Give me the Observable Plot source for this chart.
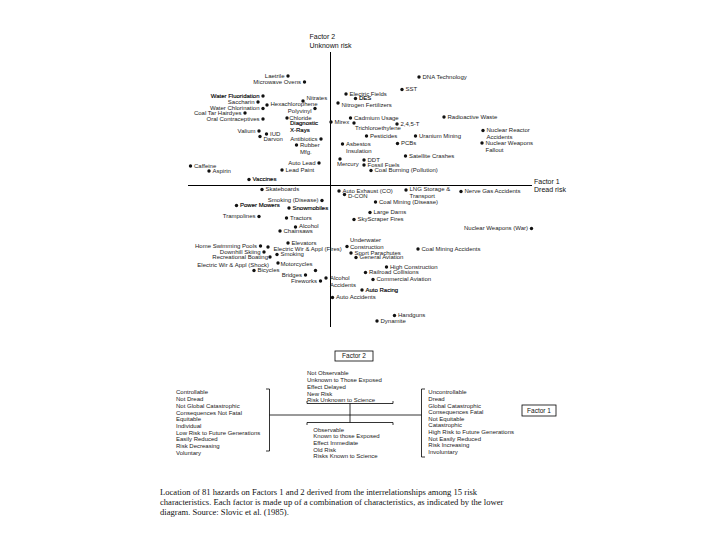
<!DOCTYPE html>
<html><head><meta charset="utf-8">
<script src="https://cdn.jsdelivr.net/npm/d3@7"></script>
<script src="https://cdn.jsdelivr.net/npm/@observablehq/plot@0.6"></script>
<style>
body{margin:0;background:#fff}
#page{position:relative;width:720px;height:540px;overflow:hidden;background:#fff}
#page svg{position:absolute;left:0;top:0}
#caption{position:absolute;left:160px;top:487px;font-family:"Liberation Serif","Times New Roman",serif;font-size:8.6px;line-height:10px;color:#111;white-space:nowrap}
</style></head>
<body><div id="page"><div id="caption"></div></div>
<script>
// ---- data: 81 hazards, factor scores ----
const hazards = ["Laetrile","Microwave Ovens","Water Fluoridation","Saccharin","Water Chlorination","Coal Tar Hairdyes","Oral Contraceptives","Hexachlorophene","Nitrates","Polyvinyl Chloride",
"Diagnostic X-Rays","Valium","IUD","Darvon","Antibiotics","Rubber Mfg.","Auto Lead","Lead Paint","Caffeine","Aspirin",
"Vaccines","Skateboards","Smoking (Disease)","Power Mowers","Snowmobiles","Trampolines","Tractors","Alcohol","Chainsaws","Elevators",
"Home Swimming Pools","Electric Wir & Appl (Fires)","Downhill Skiing","Smoking","Recreational Boating","Electric Wir & Appl (Shock)","Motorcycles","Bicycles","Bridges","Fireworks",
"Alcohol Accidents","Auto Accidents","Auto Racing","Commercial Aviation","Railroad Collisions","High Construction","General Aviation","Sport Parachutes","Underwater Construction","Coal Mining Accidents",
"Nuclear Weapons (War)","SkyScraper Fires","Large Dams","Coal Mining (Disease)","Auto Exhaust (CO)","D-CON","LNG Storage & Transport","Nerve Gas Accidents","Handguns","Dynamite",
"Mercury","DDT","Fossil Fuels","Coal Burning (Pollution)","Satellite Crashes","Asbestos Insulation","PCBs","Pesticides","Uranium Mining","Nuclear Reactor Accidents",
"Nuclear Weapons Fallout","Radioactive Waste","Trichloroethylene","2,4,5-T","Mirex","Cadmium Usage","Nitrogen Fertilizers","DES","Electric Fields","SST","DNA Technology"];
const factor1 = [-0.85,-0.52,-1.35,-1.45,-1.35,-1.71,-1.35,-1.27,-0.55,-0.31,
-0.87,-1.43,-1.28,-1.41,-0.19,-0.68,-0.23,-0.97,-2.80,-2.43,
-1.63,-1.37,-0.17,-1.88,-0.83,-1.43,-0.88,-0.70,-1.01,-0.85,
-1.40,-1.25,-1.33,-1.07,-1.21,-1.05,-0.30,-1.53,-0.50,-0.20,
-0.09,0.04,0.63,0.85,0.70,1.12,0.51,0.41,0.33,1.75,
4.02,0.47,0.79,0.90,0.17,0.28,1.51,2.61,1.28,0.93,
0.19,0.67,0.67,0.81,1.50,0.24,1.34,0.72,1.70,3.05,
3.03,2.27,0.47,1.33,0.01,0.40,0.15,0.50,0.31,1.43,1.77];
const factor2 = [2.19,2.07,1.79,1.67,1.54,1.45,1.33,1.61,1.69,1.54,
1.35,1.09,1.03,0.98,0.93,0.81,0.45,0.31,0.39,0.29,
0.12,-0.08,-0.30,-0.40,-0.45,-0.62,-0.65,-0.83,-0.91,-1.15,
-1.21,-1.23,-1.33,-1.38,-1.43,-1.55,-1.70,-1.70,-1.79,-1.91,
-1.85,-2.24,-2.09,-1.88,-1.74,-1.63,-1.44,-1.35,-1.22,-1.27,
-0.86,-0.68,-0.54,-0.33,-0.11,-0.18,-0.09,-0.12,-2.60,-2.71,
0.53,0.51,0.41,0.30,0.59,0.83,0.84,0.99,0.99,1.10,
0.85,1.37,1.25,1.23,1.27,1.35,1.65,1.74,1.83,1.92,2.17];

// axis titles
const axisTitles = [["Factor 2","Unknown risk"],["Factor 1","Dread risk"]];

// lower diagram texts
const factor2High = ["Not Observable","Unknown to Those Exposed","Effect Delayed","New Risk","Risk Unknown to Science"];
const factor2Low = ["Observable","Known to those Exposed","Effect Immediate","Old Risk","Risks Known to Science"];
const factor1Low = ["Controllable","Not Dread","Not Global Catastrophic","Consequences Not Fatal","Equitable","Individual","Low Risk to Future Generations","Easily Reduced","Risk Decreasing","Voluntary"];
const factor1High = ["Uncontrollable","Dread","Global Catastrophic","Consequences Fatal","Not Equitable","Catastrophic","High Risk to Future Generations","Not Easily Reduced","Risk Increasing","Involuntary"];
const boxLabels = ["Factor 2","Factor 1"];
const captionLines = ["Location of 81 hazards on Factors 1 and 2 derived from the interrelationships among 15 risk",
"characteristics. Each factor is made up of a combination of characteristics, as indicated by the lower",
"diagram. Source: Slovic et al. (1985)."];

// ---- label placement (layout only): side, dx, dy (px), display text, bold ----
const L = (a, dx, dy, t, b) => ({a, dx, dy: dy || 0, t, b});
const labelLayout = [
L("l"),L("l"),L("l",null,0,null,1),L("l"),L("l"),L("l"),L("l"),L("r",null,-0.5),L("r",null,-3),L("l",null,2.5,"Polyvinyl\nChloride"),
L("r",3,4.9,"Diagnostic\nX-Rays",1),L("l"),L("r"),L("r",null,3),L("l"),L("r",null,0,"Rubber\nMfg."),L("l"),L("r"),L("r"),L("r"),
L("r",null,0,null,1),L("r"),L("l"),L("r",null,0,null,1),L("r",null,0,null,1),L("l"),L("r"),L("r",null,-1.4),L("r"),L("r"),
L("l"),L("r",5.5,1.6),L("l"),L("r"),L("l",-2),L("l",-9,1.7),L("l",-3,-6.7),L("r"),L("l"),L("l"),
L("r",4,0,"Alcohol\nAccidents"),L("r"),L("r",null,0,null,1),L("r"),L("r"),L("r"),L("r"),L("r"),L("r",3,-6.7,"Underwater\nConstruction"),L("r"),
L("l"),L("r"),L("r"),L("r"),L("r"),L("r",null,2),L("r",null,-1,"LNG Storage &\nTransport"),L("r"),L("r"),L("r"),
L("r",-3,5),L("r"),L("r"),L("r"),L("r"),L("r",null,0,"Asbestos\nInsulation"),L("r"),L("r"),L("r"),L("r",null,0,"Nuclear Reactor\nAccidents"),
L("r",null,0,"Nuclear Weapons\nFallout"),L("r"),L("r",1,5),L("r"),L("r"),L("r"),L("r",null,2.5),L("r",null,0,null,1),L("r"),L("r"),L("r")];

const xDomain = [-6.6, 7.8], yDomain = [-3.2, 3.7];
const W = 720, H = 345;
const PX = (xDomain[1] - xDomain[0]) / W; // data units per pixel (same for y)

const points = hazards.map((name, i) => ({name, f1: factor1[i], f2: factor2[i]}));
const labelRows = [];
points.forEach((p, i) => {
  const s = labelLayout[i];
  const anchor = s.a === "l" ? "end" : "start";
  const dx = s.dx == null ? (s.a === "l" ? -3.5 : 3.5) : s.dx;
  const lines = (s.t || p.name).split("\n");
  lines.forEach((line, j) => labelRows.push({text: line, anchor, bold: !!s.b,
    x: p.f1 + dx * PX, y: p.f2 - (s.dy + j * 6.9) * PX}));
});

const vTop = 2.66, vBot = -2.84, hLeft = -2.84, hRight = 4.04;
const titleRows = [
  {t: axisTitles[0][0], x: 0, y: vTop, dx: -21, dy: -16},
  {t: axisTitles[0][1], x: 0, y: vTop, dx: -21, dy: -7},
  {t: axisTitles[1][0], x: hRight, y: 0, dx: 1.5, dy: -4},
  {t: axisTitles[1][1], x: hRight, y: 0, dx: 1.5, dy: 4.3}];

const labelMark = (anchor, bold) => Plot.text(labelRows.filter(d => d.anchor === anchor && d.bold === bold), {
  x: "x", y: "y", text: "text", textAnchor: anchor, fontSize: 6, fill: bold ? "#000" : "#222",
  ...(bold ? {stroke: "#000", strokeWidth: 0.15} : {})});

const chart = Plot.plot({
  width: W, height: H, margin: 0,
  x: {domain: xDomain, axis: null},
  y: {domain: yDomain, axis: null},
  style: {fontFamily: '"Liberation Sans", Arial, sans-serif', background: "transparent", overflow: "visible"},
  marks: [
    Plot.ruleX([0], {y1: vTop, y2: vBot, stroke: "#000", strokeWidth: 1}),
    Plot.ruleY([0], {x1: hLeft, x2: hRight, stroke: "#000", strokeWidth: 1}),
    Plot.dot(points, {x: "f1", y: "f2", r: 1.7, fill: "#111", stroke: "none"}),
    labelMark("start", false), labelMark("end", false), labelMark("start", true), labelMark("end", true),
    Plot.text(titleRows, {x: d => d.x + d.dx * PX, y: d => d.y - d.dy * PX, text: "t", textAnchor: "start", fontSize: 7, fill: "#111"})
  ]
});
const page = document.getElementById("page");
page.appendChild(chart);

// ---- lower schematic diagram ----
const svg = d3.select(page).append("svg").attr("width", 720).attr("height", 540)
  .style("font-family", '"Liberation Sans", Arial, sans-serif').style("font-size", "6px");
const g = svg.append("g").attr("stroke", "#000").attr("stroke-width", 0.8).attr("fill", "none");
const line = (x1, y1, x2, y2) => g.append("line").attr("x1", x1).attr("y1", y1).attr("x2", x2).attr("y2", y2);
// main factor-1 axis with side brackets
line(269.5, 415, 421.5, 415);
line(269.5, 389, 269.5, 451); line(266, 389, 269.5, 389); line(266, 451, 269.5, 451);
line(421.5, 389, 421.5, 457); line(421.5, 389, 425, 389); line(421.5, 457, 425, 457);
// factor-2 brackets and connector
line(307, 403.5, 393, 403.5); line(307, 401, 307, 403.5); line(393, 401, 393, 403.5);
line(307, 422.5, 393, 422.5); line(307, 422.5, 307, 425); line(393, 422.5, 393, 425);
line(350, 403.5, 350, 422.5);
// boxes
const box = (x, y, w, h, t) => {
  g.append("rect").attr("x", x).attr("y", y).attr("width", w).attr("height", h);
  svg.append("text").attr("x", x + w / 2).attr("y", y + h / 2).attr("dy", "0.35em")
    .attr("text-anchor", "middle").attr("fill", "#111").style("font-size", "6.5px").text(t);
};
box(335, 351, 38, 10, boxLabels[0]);
box(522, 405, 34, 11, boxLabels[1]);
const block = (lines, x, y0, step) => svg.append("g").attr("fill", "#1a1a1a").selectAll("text").data(lines).join("text")
  .attr("x", x).attr("y", (d, i) => y0 + i * step).attr("dy", "0.35em").text(d => d);
block(factor2High, 307, 373.3, 6.7);
block(factor2Low, 313.3, 429.5, 6.7);
block(factor1Low, 176, 392.3, 6.72);
block(factor1High, 428.3, 392.3, 6.6);

// caption
document.getElementById("caption").innerHTML = captionLines.join("<br>");
</script>
</body></html>
